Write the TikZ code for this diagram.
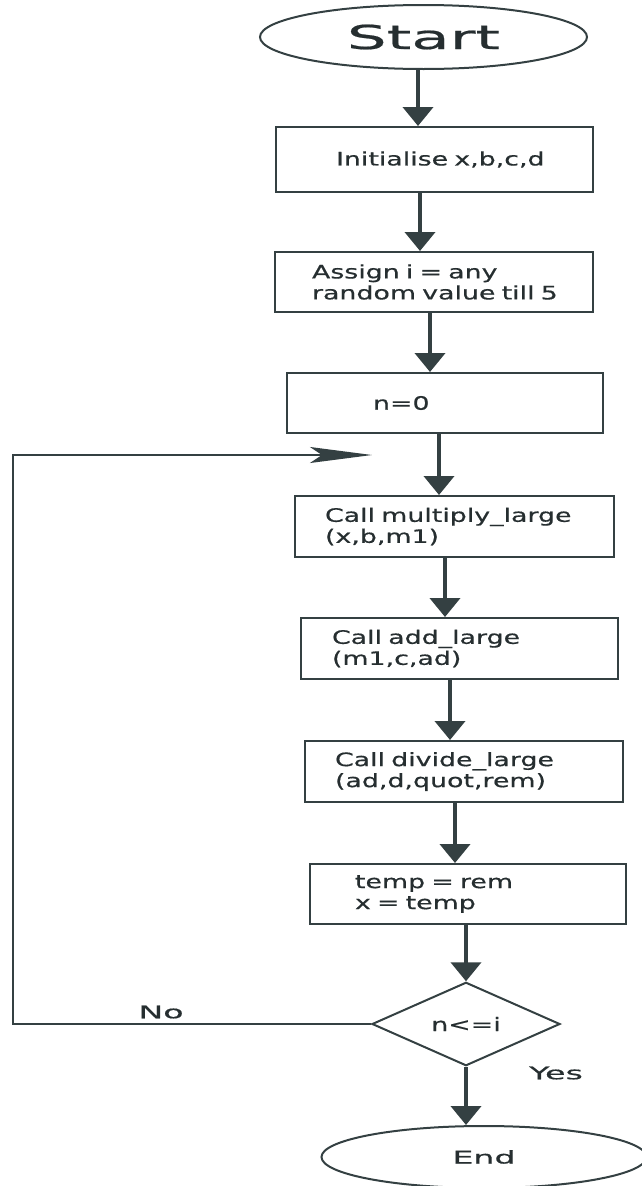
\documentclass[tikz,border=0pt]{standalone}
\usepackage{fontspec}
\newfontfamily\boxfont{DejaVu Sans}[FakeStretch=1.45, FakeBold=0.6, WordSpace=1.6]
\newfontfamily\tagfont{DejaVu Sans}[FakeStretch=1.9, FakeBold=0.6]
\usetikzlibrary{arrows.meta,shapes.geometric}
\definecolor{ink}{RGB}{52,64,66}
\definecolor{txt}{RGB}{38,46,48}

\begin{document}
\begin{tikzpicture}[x=1pt,y=-1pt,
  proc/.style={draw=ink, line width=2pt, minimum height=#1, inner ysep=0pt,
    align=left, text=txt, font=\boxfont\fontsize{18.5}{21}\selectfont},
  term/.style={ellipse, draw=ink, line width=2pt, inner sep=0pt, text=txt},
  test/.style={diamond, draw=ink, line width=2pt, inner sep=0pt, text=txt,
    font=\boxfont\fontsize{18.5}{21}\selectfont},
  lab/.style={text=txt, inner sep=0pt, font=\tagfont\fontsize{17.5}{20}\selectfont},
  flow/.style={draw=ink, line width=4pt, -{Triangle[length=19pt, width=30pt]}},
  back/.style={draw=ink, line width=2pt, line join=miter,
    -{Stealth[length=62pt, width=16pt, inset=12pt]}}
]
\useasboundingbox (0,0) rectangle (641,1186);

% terminals
\node[term, minimum width=327pt, minimum height=64pt] (start) at (423.5,37)
  {\tagfont\fontsize{33}{36}\selectfont Start};
\node[term, minimum width=325pt, minimum height=62pt] (end) at (484,1157)
  {\tagfont\fontsize{17.5}{20}\selectfont End};

% process steps
\node[proc=65pt, text width=197pt, inner xsep=60pt] (b1) at (434.5,159.5)
  {\mbox{Initialise x,b,c,d}};
\node[proc=60pt, text width=244pt, inner xsep=37pt] (b2) at (434,282)
  {\mbox{Assign i = any}\\\mbox{random value till 5}};
\node[proc=60pt, text width=144pt, inner xsep=86pt] (b3) at (445,403)
  {\mbox{n=0}};
\node[proc=61pt, text width=259pt, inner xsep=30pt] (b4) at (454.5,526.5)
  {\mbox{Call multiply\_large}\\\mbox{(x,b,m1)}};
\node[proc=61pt, text width=255pt, inner xsep=31pt] (b5) at (459.5,648.5)
  {\mbox{Call add\_large}\\\mbox{(m1,c,ad)}};
\node[proc=61pt, text width=258pt, inner xsep=30pt] (b6) at (464,771.5)
  {\mbox{Call divide\_large}\\\mbox{(ad,d,quot,rem)}};
\node[proc=60pt, text width=226pt, inner xsep=45pt] (b7) at (468,894)
  {\mbox{temp = rem}\\\mbox{x = temp}};

% loop test
\node[test, minimum width=188pt, minimum height=79pt] (dia) at (466,1024) {n<=i};

% branch labels
\node[lab] (no) at (161,1012) {No};
\node[lab] (yes) at (556,1073) {Yes};

% main flow
\draw[flow] ([xshift=-5.5pt]start.south) -- ([xshift=-16.5pt]b1.north);
\draw[flow] ([xshift=-14.5pt]b1.south) -- ([xshift=-14pt]b2.north);
\draw[flow] ([xshift=-4pt]b2.south) -- ([xshift=-15pt]b3.north);
\draw[flow] ([xshift=-6pt]b3.south) -- ([xshift=-15.5pt]b4.north);
\draw[flow] ([xshift=-9.5pt]b4.south) -- ([xshift=-14.5pt]b5.north);
\draw[flow] ([xshift=-9.5pt]b5.south) -- ([xshift=-14pt]b6.north);
\draw[flow] ([xshift=-9pt]b6.south) -- ([xshift=-13pt]b7.north);
\draw[flow] ([xshift=-2pt]b7.south) -- (dia.north);
\draw[flow] (dia.south) -- (dia.south |- end.north);

% loop back to the top of the repeated block
\coordinate (lt) at (13,455);
\coordinate (ret) at (372,455);
\draw[back] (dia.west) -| (lt) -- (ret);
\end{tikzpicture}
\end{document}
